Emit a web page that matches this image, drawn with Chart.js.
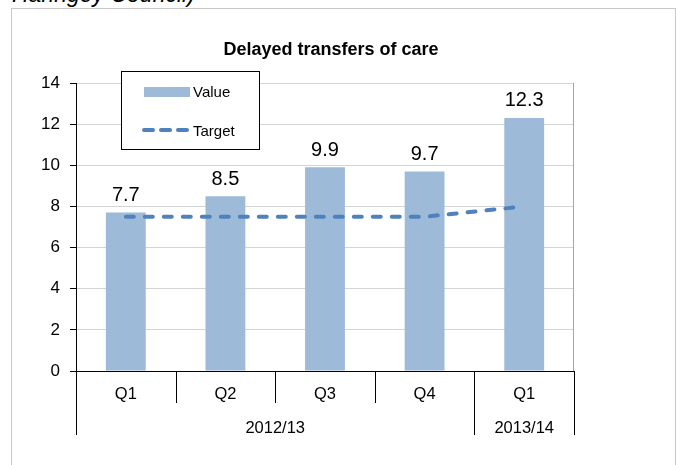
<!DOCTYPE html>
<html><head><meta charset="utf-8">
<script src="https://cdn.jsdelivr.net/npm/chart.js@4/dist/chart.umd.min.js"></script>
<style>
html,body{margin:0;padding:0;background:#fff;width:676px;height:465px;overflow:hidden;}
#above{position:absolute;left:12px;top:-17px;font:italic 23px "Liberation Sans",Arial,sans-serif;line-height:23px;color:#000;white-space:nowrap;}
#frame{position:absolute;left:11px;top:8px;width:663px;height:470px;border:1px solid #c8c8c8;}
#wrap{position:absolute;left:0;top:0;width:676px;height:465px;}
</style></head><body>
<div id="above">Haringey Council)</div>
<div id="frame"></div>
<div id="wrap"><canvas id="c" width="676" height="465"></canvas></div>
<script>
const chartTitle = 'Delayed transfers of care';
const quarters = ['Q1','Q2','Q3','Q4','Q1'];
const years = ['2012/13','2013/14'];
const yearSpans = [4,1];
const values = [7.7,8.5,9.9,9.7,12.3];
const target = [7.5,7.5,7.5,7.5,8.0];
const yMin = 0, yMax = 14, yStep = 2;

const FAM = '"Liberation Sans", Arial, sans-serif';
const BAR = '#9DBAD9';
const LINE = '#4F81BD';

const decor = {
  id: 'decor',
  beforeDatasetsDraw(chart) {
    const {ctx, chartArea: a} = chart;
    ctx.save();
    ctx.strokeStyle = '#a6a6a6'; ctx.lineWidth = 1;
    ctx.beginPath();
    ctx.moveTo(Math.round(a.right) - 0.5, a.top);
    ctx.lineTo(Math.round(a.right) - 0.5, a.bottom);
    ctx.stroke();
    ctx.restore();
  },
  afterDraw(chart) {
    const {ctx, chartArea: a, scales: {x}} = chart;
    ctx.save();
    const bounds = [-0.5]; let acc = 0;
    yearSpans.forEach(n => { acc += n; bounds.push(acc - 0.5); });
    ctx.strokeStyle = '#000'; ctx.lineWidth = 1;
    ctx.beginPath();
    for (let i = 0; i <= quarters.length; i++) {
      const v = i - 0.5;
      const px = Math.round(x.getPixelForValue(v)) + 0.5;
      const grp = bounds.includes(v);
      ctx.moveTo(px, a.bottom);
      ctx.lineTo(px, a.bottom + (grp ? 64 : 32));
    }
    ctx.stroke();
    ctx.fillStyle = '#000';
    ctx.font = '16.5px ' + FAM;
    ctx.textAlign = 'center'; ctx.textBaseline = 'alphabetic';
    for (let g = 0; g < years.length; g++) {
      const cx = (x.getPixelForValue(bounds[g]) + x.getPixelForValue(bounds[g + 1])) / 2;
      ctx.fillText(years[g], cx, a.bottom + 62);
    }
    const meta = chart.getDatasetMeta(1);
    ctx.font = '20px ' + FAM;
    meta.data.forEach((bar, i) => {
      ctx.fillText(String(values[i]), bar.x, bar.y - 11.5);
    });
    ctx.font = 'bold 18px ' + FAM;
    ctx.fillText(chartTitle, 331, 55);
    ctx.fillStyle = '#fff';
    ctx.fillRect(121.5, 71.5, 138, 78);
    ctx.strokeStyle = '#000';
    ctx.strokeRect(121.5, 71.5, 138, 78);
    ctx.fillStyle = BAR;
    ctx.fillRect(144, 87, 46, 10);
    ctx.strokeStyle = LINE; ctx.lineWidth = 4; ctx.lineCap = 'round';
    ctx.setLineDash([9, 8]);
    ctx.beginPath(); ctx.moveTo(144, 130); ctx.lineTo(190, 130); ctx.stroke();
    ctx.setLineDash([]);
    ctx.fillStyle = '#000';
    ctx.font = '15px ' + FAM;
    ctx.textAlign = 'left';
    ctx.fillText(chart.data.datasets[1].label, 193, 97);
    ctx.fillText(chart.data.datasets[0].label, 193, 135.5);
    ctx.restore();
  }
};

new Chart(document.getElementById('c'), {
  data: {
    labels: quarters,
    datasets: [
      {type: 'line', label: 'Target', data: target, borderColor: LINE, borderWidth: 4,
       borderDash: [8, 11], borderCapStyle: 'round', pointRadius: 0, fill: false, tension: 0, order: 0},
      {type: 'bar', label: 'Value', data: values, backgroundColor: BAR, borderWidth: 0,
       barPercentage: 0.4, categoryPercentage: 1, order: 1}
    ]
  },
  options: {
    responsive: false, animation: false, devicePixelRatio: 1,
    layout: {padding: {top: 83, right: 102, bottom: 0, left: 0}},
    plugins: {legend: {display: false}, tooltip: {enabled: false}, title: {display: false}},
    scales: {
      x: {
        offset: true,
        grid: {display: false},
        border: {display: true, color: '#000', width: 1},
        ticks: {font: {size: 16.5, family: FAM}, color: '#000', padding: 6, maxRotation: 0, autoSkip: false},
        afterFit(s) { s.height = 94; }
      },
      y: {
        min: yMin, max: yMax,
        ticks: {stepSize: yStep, font: {size: 17, family: FAM}, color: '#000', padding: 10},
        grid: {color: c => (c.tick && c.tick.value === 0) ? 'rgba(0,0,0,0)' : '#d4d4d4', tickColor: '#000', tickLength: 6},
        border: {color: '#000', width: 1},
        afterFit(s) { s.width = 76; }
      }
    }
  },
  plugins: [decor]
});
</script>
</body></html>
